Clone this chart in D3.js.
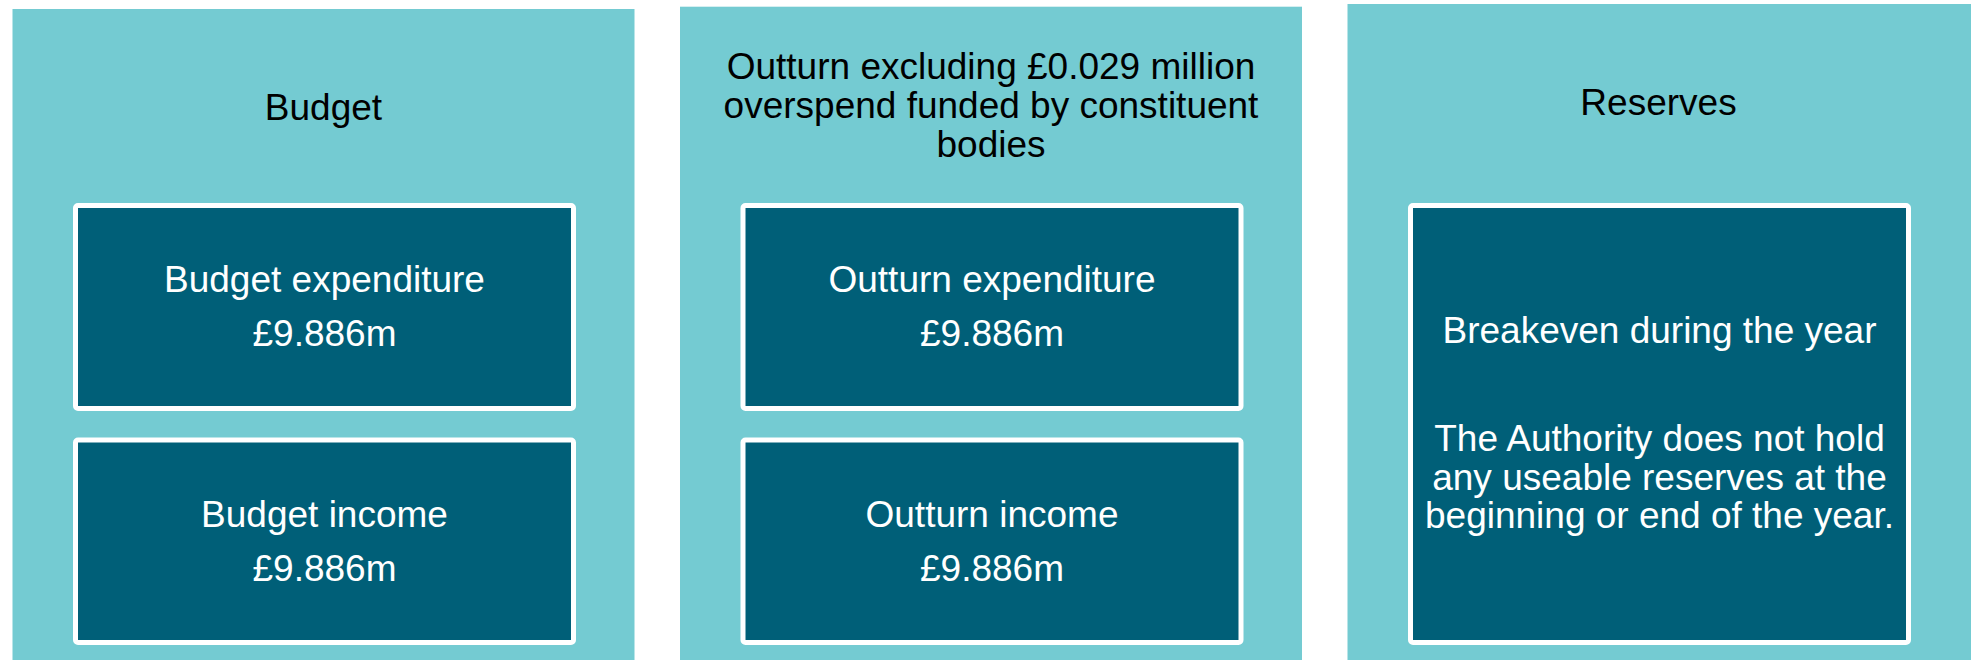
<!DOCTYPE html>
<html>
<head>
<meta charset="utf-8">
<script src="https://cdn.jsdelivr.net/npm/d3@7"></script>
<style>
  html, body { margin: 0; padding: 0; background: #ffffff; }
  svg { display: block; }
  text { font-family: "Liberation Sans", Arial, "DejaVu Sans", sans-serif; }
</style>
</head>
<body>
<svg id="chart" width="1971" height="660"></svg>
<script>
// ---- data ----
const panelNames = ["budget", "outturn", "reserves"];
const panelTitles = [
  ["Budget"],
  ["Outturn excluding £0.029 million", "overspend funded by constituent", "bodies"],
  ["Reserves"]
];
const itemLabels = [
  ["Budget expenditure", "Budget income"],
  ["Outturn expenditure", "Outturn income"]
];
const itemValues = [
  ["£9.886m", "£9.886m"],
  ["£9.886m", "£9.886m"]
];
const reservesHeadline = "Breakeven during the year";
const reservesNote = [
  "The Authority does not hold",
  "any useable reserves at the",
  "beginning or end of the year."
];

// ---- layout ----
const W = 1971, H = 660;
const light = "#74CBD2", dark = "#005F78";
const fontSize = 37;
const svg = d3.select("#chart");

const x = d3.scaleBand()
  .domain(panelNames)
  .range([12.5, 1969.5])
  .paddingInner(45.5 / 667.5)
  .paddingOuter(0);

const panelTop = { budget: 9, outturn: 6.7, reserves: 4 };

const panel = svg.selectAll("g.panel")
  .data(panelNames)
  .join("g")
  .attr("class", "panel")
  .attr("transform", d => `translate(${x(d)},0)`);

panel.append("rect")
  .attr("x", 0)
  .attr("y", d => panelTop[d])
  .attr("width", (d, i) => i === 2 ? W - x(d) + 2 : x.bandwidth())
  .attr("height", d => H - panelTop[d] + 2)
  .attr("fill", light);

// titles
const titleLH = 39;
panel.each(function(d, i) {
  const g = d3.select(this);
  const lines = panelTitles[i];
  const n = lines.length;
  const cx = x.bandwidth() / 2;
  g.selectAll("text.title")
    .data(lines)
    .join("text")
    .attr("class", "title")
    .attr("x", cx)
    .attr("y", (t, j) => panelTop[d] + 111 + (j - (n - 1) / 2) * titleLH)
    .attr("text-anchor", "middle")
    .attr("font-size", fontSize)
    .attr("fill", "#000")
    .text(t => t);
});

// boxes
const boxX = 63, boxW = 498, sw = 5;
const boxRows = [{ top: 203, bottom: 411 }, { top: 437.5, bottom: 645 }];

function drawBox(g, top, bottom) {
  g.append("rect")
    .attr("x", boxX)
    .attr("y", top + sw / 2)
    .attr("width", boxW)
    .attr("height", bottom - top - sw)
    .attr("rx", 2.5)
    .attr("fill", dark)
    .attr("stroke", "#ffffff")
    .attr("stroke-width", sw);
}

const boxCx = boxX + boxW / 2;

panel.filter((d, i) => i < 2).each(function(d, i) {
  const g = d3.select(this);
  boxRows.forEach((r, k) => {
    drawBox(g, r.top, r.bottom);
    g.append("text")
      .attr("x", boxCx)
      .attr("y", r.top + 89)
      .attr("text-anchor", "middle")
      .attr("font-size", fontSize)
      .attr("fill", "#fff")
      .text(itemLabels[i][k]);
    g.append("text")
      .attr("x", boxCx)
      .attr("y", r.top + 143)
      .attr("text-anchor", "middle")
      .attr("font-size", fontSize)
      .attr("fill", "#fff")
      .text(itemValues[i][k]);
  });
});

// reserves box
panel.filter((d, i) => i === 2).each(function() {
  const g = d3.select(this);
  const top = 203, bottom = 645;
  drawBox(g, top, bottom);
  g.append("text")
    .attr("x", boxCx)
    .attr("y", top + 140)
    .attr("text-anchor", "middle")
    .attr("font-size", fontSize)
    .attr("fill", "#fff")
    .text(reservesHeadline);
  g.selectAll("text.note")
    .data(reservesNote)
    .join("text")
    .attr("class", "note")
    .attr("x", boxCx)
    .attr("y", (t, j) => top + 248 + j * 38.5)
    .attr("text-anchor", "middle")
    .attr("font-size", fontSize)
    .attr("fill", "#fff")
    .text(t => t);
});
</script>
</body>
</html>
